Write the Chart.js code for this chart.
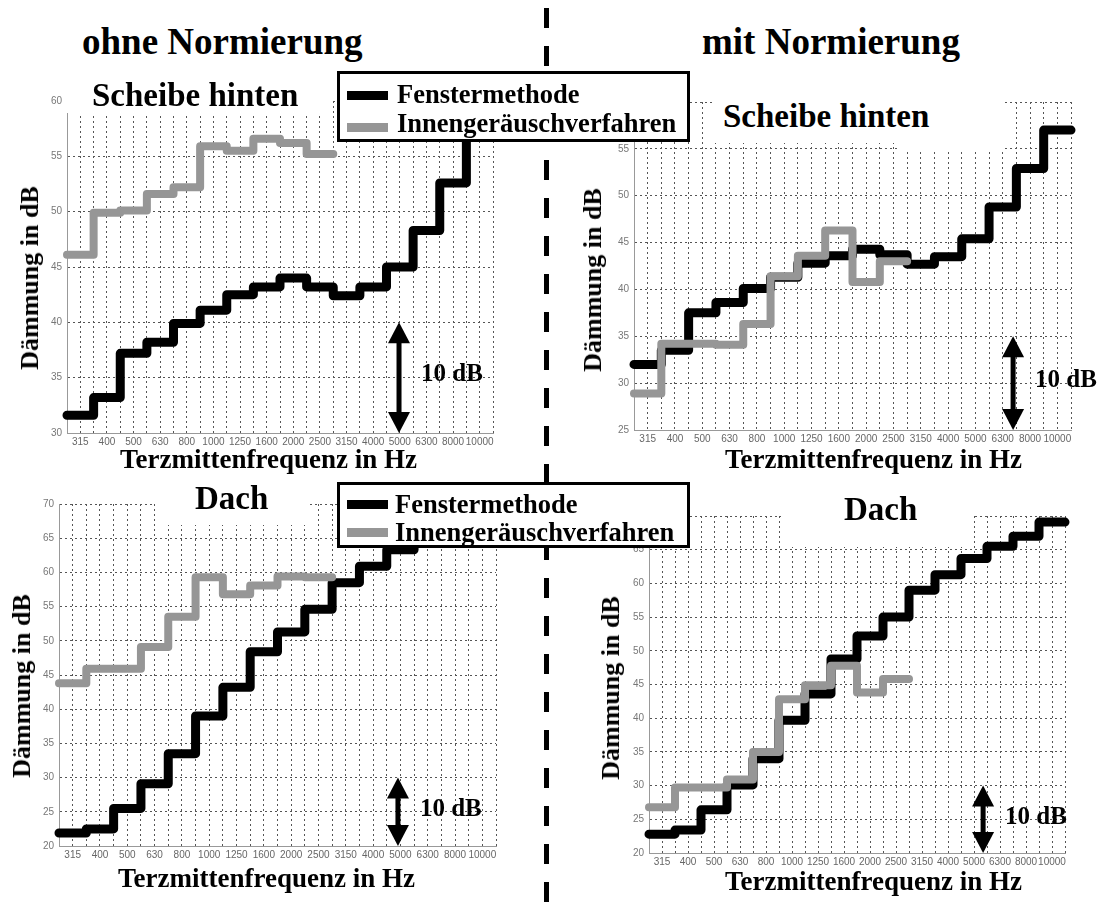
<!DOCTYPE html>
<html lang="de">
<head>
<meta charset="UTF-8">
<title>Dämmung ohne / mit Normierung</title>
<script src="https://cdn.jsdelivr.net/npm/chart.js@4.4.1/dist/chart.umd.min.js"></script>
<style>
  body { margin: 0; background: #fff; }
  #page { position: relative; width: 1104px; height: 903px; overflow: hidden;
          font-family: "Liberation Serif", "Times New Roman", serif; font-weight: bold; color: #000; }
  .abs { position: absolute; line-height: 1; white-space: nowrap; }
  canvas.plot { position: absolute; }
  .blank { position: absolute; background: #fff; }
  .legend { position: absolute; background: #fff; border: 3px solid #000; box-sizing: border-box; }
  .swatch { position: absolute; height: 9px; width: 41px; }
  .ylab { transform: translate(-50%, -50%) rotate(-90deg); font-size: 26px; }
  .xlab { font-size: 27px; }
  .sub { font-size: 33px; }
  .head { font-size: 37px; }
  .leg { font-size: 26.5px; }
  #divider { position: absolute; left: 544px; top: 0; width: 5px; height: 903px;
             background: repeating-linear-gradient(to bottom, #000 0 20px, transparent 20px 38px);
             background-position: 0 8px; }
</style>
</head>
<body>
<div id="page">
  <canvas class="plot" id="tl"></canvas>
  <canvas class="plot" id="tr"></canvas>
  <canvas class="plot" id="bl"></canvas>
  <canvas class="plot" id="br"></canvas>

  <!-- white patches behind the subplot titles (they hide the top of the grid) -->
  <div class="blank" style="left:66px;top:95px;width:266px;height:18px"></div>
  <div class="blank" style="left:712px;top:98px;width:292px;height:45px"></div>
  <div class="blank" style="left:900px;top:143px;width:104px;height:7px"></div>
  <div class="blank" style="left:155px;top:500px;width:152px;height:25px"></div>
  <div class="blank" style="left:781px;top:505px;width:192px;height:42px"></div>

  <div id="divider"></div>

  <div class="abs head" style="left:82px;top:23px">ohne Normierung</div>
  <div class="abs head" style="left:702px;top:23px">mit Normierung</div>

  <div class="abs sub" style="left:92px;top:79px">Scheibe hinten</div>
  <div class="abs sub" style="left:723px;top:100px">Scheibe hinten</div>
  <div class="abs sub" style="left:195px;top:482px">Dach</div>
  <div class="abs sub" style="left:844px;top:493px">Dach</div>

  <div class="abs ylab" style="left:30px;top:278px">Dämmung in dB</div>
  <div class="abs ylab" style="left:593px;top:280px">Dämmung in dB</div>
  <div class="abs ylab" style="left:22px;top:686px">Dämmung in dB</div>
  <div class="abs ylab" style="left:611px;top:688px">Dämmung in dB</div>

  <div class="abs xlab" style="left:120px;top:446px">Terzmittenfrequenz in Hz</div>
  <div class="abs xlab" style="left:725px;top:446px">Terzmittenfrequenz in Hz</div>
  <div class="abs xlab" style="left:118px;top:865px">Terzmittenfrequenz in Hz</div>
  <div class="abs xlab" style="left:725px;top:868px">Terzmittenfrequenz in Hz</div>

  <div class="legend" style="left:337px;top:71px;width:353px;height:71px"></div>
  <div class="swatch" style="left:347px;top:91px;background:#000"></div>
  <div class="swatch" style="left:347px;top:123px;background:#969696"></div>
  <div class="abs leg" style="left:397px;top:81px">Fenstermethode</div>
  <div class="abs leg" style="left:397px;top:110px">Innengeräuschverfahren</div>

  <div class="legend" style="left:337px;top:482px;width:353px;height:66px"></div>
  <div class="swatch" style="left:347px;top:500px;background:#000"></div>
  <div class="swatch" style="left:347px;top:528px;background:#969696"></div>
  <div class="abs leg" style="left:395px;top:491px">Fenstermethode</div>
  <div class="abs leg" style="left:395px;top:519px">Innengeräuschverfahren</div>
</div>

<script>
// third-octave band centre frequencies (x axis)
var freqs = ['315', '400', '500', '630', '800', '1000', '1250', '1600',
             '2000', '2500', '3150', '4000', '5000', '6300', '8000', '10000'];

// Scheibe hinten, ohne Normierung
var fensterScheibeOhne = [31.6, 33.2, 37.2, 38.2, 39.9, 41.1, 42.5, 43.2, 44.0, 43.2, 42.4, 43.2, 45.0, 48.3, 52.6, 56.8];
var innenScheibeOhne   = [46.1, 49.9, 50.1, 51.6, 52.2, 55.9, 55.5, 56.6, 56.2, 55.2];

// Scheibe hinten, mit Normierung
var fensterScheibeMit = [32.0, 33.5, 37.5, 38.6, 40.1, 41.3, 42.8, 43.6, 44.3, 43.7, 42.7, 43.5, 45.4, 48.8, 52.9, 57.0];
var innenScheibeMit   = [28.9, 34.2, 34.2, 34.1, 36.3, 41.4, 43.6, 46.3, 40.8, 43.0];

// Dach, ohne Normierung
var fensterDachOhne = [21.9, 22.5, 25.5, 29.1, 33.5, 39.0, 43.2, 48.4, 51.3, 54.6, 58.5, 60.9, 63.3, 65.3, 66.9, 68.8];
var innenDachOhne   = [43.8, 45.9, 45.9, 49.1, 53.5, 59.3, 56.8, 58.1, 59.4, 59.3];

// Dach, mit Normierung
var fensterDachMit = [22.8, 23.4, 26.4, 30.1, 34.0, 39.7, 43.6, 48.8, 52.2, 55.0, 59.0, 61.3, 63.7, 65.5, 67.0, 69.1];
var innenDachMit   = [26.8, 29.7, 29.7, 30.9, 35.0, 42.8, 44.9, 47.8, 43.8, 45.8];

// grid every half band, labels in the band centres
var halfSteps = [];
for (var i = 0; i <= 32; i++) halfSteps.push(i / 2);

// each value covers its whole band [i, i+1]
function steps(values) {
  var pts = values.map(function (v, i) { return {x: i, y: v}; });
  pts.push({x: values.length, y: values[values.length - 1]});
  return pts;
}

// double arrow "10 dB"
var tenDbPlugin = {
  id: 'tenDb',
  afterDatasetsDraw: function (chart, args, o) {
    var ctx = chart.ctx, xs = chart.scales.x, ys = chart.scales.y;
    var px = xs.getPixelForValue(o.x);
    var top = ys.getPixelForValue(o.from + 10), bot = ys.getPixelForValue(o.from);
    var hw = 11, hh = 21;
    ctx.save();
    ctx.fillStyle = '#000';
    ctx.fillRect(px - 2.5, top + hh - 1, 5, bot - top - 2 * hh + 2);
    ctx.beginPath(); ctx.moveTo(px, top); ctx.lineTo(px - hw, top + hh); ctx.lineTo(px + hw, top + hh); ctx.closePath(); ctx.fill();
    ctx.beginPath(); ctx.moveTo(px, bot); ctx.lineTo(px - hw, bot - hh); ctx.lineTo(px + hw, bot - hh); ctx.closePath(); ctx.fill();
    ctx.font = 'bold 25px "Liberation Serif"';
    ctx.textBaseline = 'middle';
    ctx.fillText('10 dB', px + 22, ys.getPixelForValue(o.from + 5.3));
    ctx.restore();
  }
};

function makePlot(id, box, yMin, yMax, fenster, innen, arrow) {
  var PL = 40, PT = 14, PR = 40, PB = 24;
  var cv = document.getElementById(id);
  var w = Math.round(box.right - box.left) + PL + PR;
  var h = Math.round(box.bottom - box.top) + PT + PB;
  cv.width = w; cv.height = h;
  cv.style.left = Math.round(box.left - PL) + 'px';
  cv.style.top = Math.round(box.top - PT) + 'px';

  new Chart(cv, {
    type: 'line',
    data: {
      datasets: [
        { label: 'Fenstermethode', data: steps(fenster), borderColor: '#000', borderWidth: 9,
          stepped: 'before', pointRadius: 0, borderJoinStyle: 'round', borderCapStyle: 'round',
          fill: false, clip: false, order: 1 },
        { label: 'Innengeräuschverfahren', data: steps(innen), borderColor: '#969696', borderWidth: 8,
          stepped: 'before', pointRadius: 0, borderJoinStyle: 'round', borderCapStyle: 'round',
          fill: false, clip: false, order: 0 }
      ]
    },
    options: {
      responsive: false,
      animation: false,
      events: [],
      layout: { padding: { top: PT, right: PR, left: 0, bottom: 0 } },
      plugins: { legend: { display: false }, tooltip: { enabled: false }, tenDb: arrow },
      scales: {
        x: {
          type: 'linear', min: 0, max: 16,
          afterBuildTicks: function (s) { s.ticks = halfSteps.map(function (v) { return {value: v}; }); },
          afterFit: function (s) { s.height = PB; },
          ticks: {
            autoSkip: false, maxRotation: 0, minRotation: 0, padding: 3, color: '#666',
            font: { family: '"Liberation Sans Narrow", "Liberation Sans", Arial', size: 10 },
            callback: function (v) { return v % 1 ? freqs[Math.floor(v)] : ''; }
          },
          grid: { color: '#555', lineWidth: 1, drawTicks: false },
          border: { color: '#999', width: 1, dash: [2, 3] }
        },
        y: {
          min: yMin, max: yMax,
          afterFit: function (s) { s.width = PL; },
          ticks: { stepSize: 5, padding: 5, color: '#777', font: { family: '"Liberation Sans", Arial', size: 10 } },
          grid: { color: '#555', lineWidth: 1, drawTicks: false },
          border: { color: '#999', width: 1, dash: [2, 3] }
        }
      }
    },
    plugins: [tenDbPlugin]
  });
}

makePlot('tl', {left: 67, top: 101, right: 493, bottom: 433}, 30, 60,
         fensterScheibeOhne, innenScheibeOhne, {x: 12.47, from: 30});
makePlot('tr', {left: 634, top: 102, right: 1071, bottom: 430}, 25, 60,
         fensterScheibeMit, innenScheibeMit, {x: 13.88, from: 25});
makePlot('bl', {left: 59, top: 504, right: 496, bottom: 846}, 20, 70,
         fensterDachOhne, innenDachOhne, {x: 12.41, from: 20});
makePlot('br', {left: 649, top: 516, right: 1065, bottom: 853}, 20, 70,
         fensterDachMit, innenDachMit, {x: 12.85, from: 20});
</script>
</body>
</html>
